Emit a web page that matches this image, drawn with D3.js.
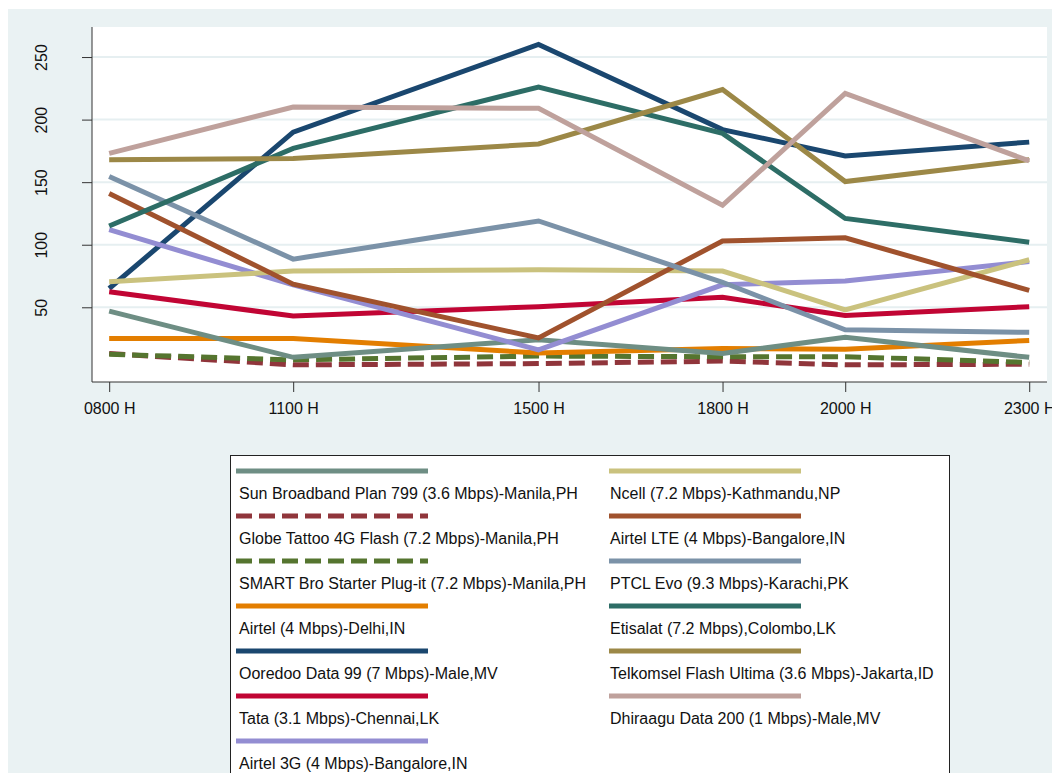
<!DOCTYPE html>
<html>
<head>
<meta charset="utf-8">
<script src="https://cdn.jsdelivr.net/npm/d3@7"></script>
<style>
  body { margin: 0; background: #fff; }
  svg { display: block; font-family: "Liberation Sans", Arial, sans-serif; }
</style>
</head>
<body>
<div id="chart"></div>
<script>
// Hourly download speed per connection.
const hours = [8, 11, 15, 18, 20, 23];
const hourLabels = ["0800 H", "1100 H", "1500 H", "1800 H", "2000 H", "2300 H"];
const yTicks = [50, 100, 150, 200, 250];

// Series in plotting order (later ones are drawn on top).
const seriesNames = [
    "Ooredoo Data 99 (7 Mbps)-Male,MV",
    "Globe Tattoo 4G Flash (7.2 Mbps)-Manila,PH",
    "SMART Bro Starter Plug-it (7.2 Mbps)-Manila,PH",
    "Airtel (4 Mbps)-Delhi,IN",
    "Sun Broadband Plan 799 (3.6 Mbps)-Manila,PH",
    "Tata (3.1 Mbps)-Chennai,LK",
    "Airtel 3G (4 Mbps)-Bangalore,IN",
    "Ncell (7.2 Mbps)-Kathmandu,NP",
    "Airtel LTE (4 Mbps)-Bangalore,IN",
    "PTCL Evo (9.3 Mbps)-Karachi,PK",
    "Etisalat (7.2 Mbps),Colombo,LK",
    "Telkomsel Flash Ultima (3.6 Mbps)-Jakarta,ID",
    "Dhiraagu Data 200 (1 Mbps)-Male,MV"
];
const ooredoo   = [65, 190, 260, 192, 171, 182];
const globe     = [13, 4, 5, 7, 4, 4.5];
const smartBro  = [12.5, 8, 11, 10.5, 10.5, 6];
const airtelDel = [25, 25, 13.5, 17, 16.5, 23.5];
const sunBroad  = [47, 10, 24, 13, 26, 10];
const tata      = [62.5, 43, 50.5, 58, 43.5, 50.5];
const airtel3g  = [112, 68, 16, 68, 71, 86.5];
const ncell     = [70.5, 79, 80, 79, 48, 88];
const airtelLte = [141, 68.5, 25.5, 103, 105.5, 63.5];
const ptcl      = [154.5, 88.5, 119, 70, 32, 30];
const etisalat  = [115, 177, 226, 189, 121, 102];
const telkomsel = [168, 169, 180.5, 224, 150.5, 168];
const dhiraagu  = [173, 210, 209, 131.5, 221, 167];
const seriesValues = [ooredoo, globe, smartBro, airtelDel, sunBroad, tata, airtel3g,
    ncell, airtelLte, ptcl, etisalat, telkomsel, dhiraagu];

// Legend columns, as indices into the series above.
const legendColumns = [[4, 1, 2, 3, 0, 5, 6], [7, 8, 9, 10, 11, 12]];

// Stata s2color palette
const palette = ["#1a476f", "#90353b", "#55752f", "#e37e00", "#6e8e84", "#c10534", "#938dd2",
    "#cac27e", "#a0522d", "#7b92a8", "#2d6d66", "#9c8847", "#bfa19c"];
const dashed = new Set([1, 2]);

const width = 1052;
const height = 773;
const plot = { left: 92, right: 1047, top: 27, bottom: 382 };

const svg = d3.select("#chart").append("svg")
    .attr("width", width)
    .attr("height", height);

svg.append("rect")
    .attr("x", 8).attr("y", 9)
    .attr("width", width).attr("height", height)
    .attr("fill", "#eaf2f3");

svg.append("rect")
    .attr("x", plot.left).attr("y", plot.top)
    .attr("width", plot.right - plot.left).attr("height", plot.bottom - plot.top)
    .attr("fill", "#fff");

const x = d3.scaleLinear().domain([7.72, 23.29]).range([plot.left, plot.right]);
const y = d3.scaleLinear().domain([-9.7, 274]).range([plot.bottom, plot.top]);

// gridlines
svg.append("g")
    .selectAll("line")
    .data(yTicks)
    .join("line")
    .attr("x1", plot.left).attr("x2", plot.right)
    .attr("y1", d => y(d)).attr("y2", d => y(d))
    .attr("stroke", "#e6eff1")
    .attr("stroke-width", 2);

const line = d3.line()
    .x((d, i) => x(hours[i]))
    .y(d => y(d));

svg.append("g")
    .selectAll("path")
    .data(seriesValues)
    .join("path")
    .attr("d", line)
    .attr("fill", "none")
    .attr("stroke", (d, i) => palette[i])
    .attr("stroke-width", 5)
    .attr("stroke-linejoin", "miter")
    .attr("stroke-dasharray", (d, i) => dashed.has(i) ? "16,7" : null);

// axes
const yAxis = svg.append("g")
    .attr("transform", `translate(${plot.left},0)`)
    .call(d3.axisLeft(y).tickValues(yTicks).tickSize(10).tickSizeOuter(0));
yAxis.select(".domain").remove();
yAxis.append("line")
    .attr("y1", plot.top).attr("y2", plot.bottom)
    .attr("stroke", "#333");
yAxis.selectAll(".tick line").attr("stroke", "#333");
yAxis.selectAll(".tick text")
    .attr("x", null).attr("dy", null)
    .attr("text-anchor", "middle")
    .attr("transform", "translate(-45,0) rotate(-90)")
    .attr("font-size", 16)
    .attr("fill", "#111");

const xAxis = svg.append("g")
    .attr("transform", `translate(0,${plot.bottom})`)
    .call(d3.axisBottom(x).tickValues(hours).tickFormat((d, i) => hourLabels[i]).tickSize(10).tickSizeOuter(0));
xAxis.select(".domain").remove();
xAxis.append("line")
    .attr("x1", plot.left).attr("x2", plot.right)
    .attr("stroke", "#333");
xAxis.selectAll(".tick line").attr("stroke", "#333");
xAxis.selectAll(".tick text")
    .attr("y", 32).attr("dy", null)
    .attr("font-size", 16)
    .attr("fill", "#111");

// legend
const legend = svg.append("g");
legend.append("rect")
    .attr("x", 230.5).attr("y", 455.5)
    .attr("width", 719).attr("height", 340)
    .attr("fill", "#fff")
    .attr("stroke", "#222");

const rowY = d3.scaleLinear().domain([0, 1]).range([471, 516]);
const columnX = [{ key: 236, text: 239 }, { key: 609, text: 610 }];
const keyLength = 192;

legendColumns.forEach((column, c) => {
    const rows = legend.append("g")
        .selectAll("g")
        .data(column)
        .join("g")
        .attr("transform", (d, r) => `translate(0,${rowY(r)})`);
    rows.append("line")
        .attr("x1", columnX[c].key).attr("x2", columnX[c].key + keyLength)
        .attr("stroke", d => palette[d])
        .attr("stroke-width", 5)
        .attr("stroke-dasharray", d => dashed.has(d) ? "16,7" : null);
    rows.append("text")
        .attr("x", columnX[c].text)
        .attr("y", 28)
        .attr("font-size", 16)
        .attr("fill", "#111")
        .text(d => seriesNames[d]);
});
</script>
</body>
</html>
